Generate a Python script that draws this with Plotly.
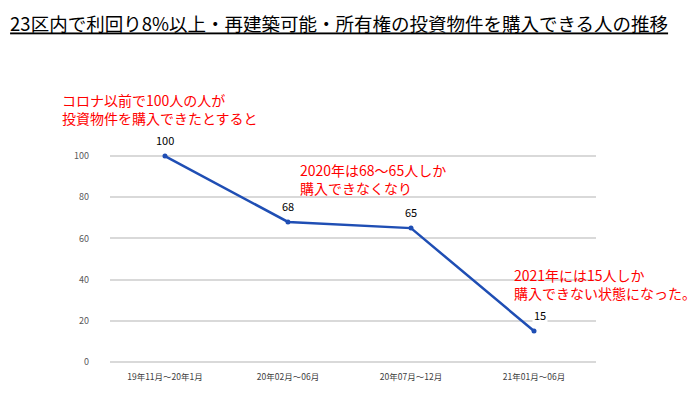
import plotly.graph_objects as go

categories = ["19年11月～20年1月", "20年02月～06月", "20年07月～12月", "21年01月～06月"]
values = [100, 68, 65, 15]
label_text = ["100", "68", "65", "15"]
y_ticks = [0, 20, 40, 60, 80, 100]

title_text = "23区内で利回り8%以上・再建築可能・所有権の投資物件を購入できる人の推移"
notes = [
    "コロナ以前で100人の人が<br>投資物件を購入できたとすると",
    "2020年は68～65人しか<br>購入できなくなり",
    "2021年には15人しか<br>購入できない状態になった。",
]
note_x = [-0.103, 0.387, 0.827]
note_y = [1.212, 0.883, 0.381]

CJK = "Noto Sans CJK JP"
xi = list(range(len(categories)))

fig = go.Figure()
fig.add_trace(go.Scatter(
    x=xi, y=values, mode="lines+markers",
    line=dict(color="#1f4eb4", width=2.5),
    marker=dict(size=5, color="#1f4eb4"),
    cliponaxis=False, hoverinfo="skip", showlegend=False,
))

for i, (v, t) in enumerate(zip(values, label_text)):
    fig.add_annotation(
        x=xi[i] + (0.05 if i == 3 else 0), y=v, text=t, showarrow=False,
        yshift=16, font=dict(family=CJK, size=11, color="#000000"),
        bgcolor="white" if i == 3 else None,
    )

for t, x, y in zip(notes, note_x, note_y):
    fig.add_annotation(
        x=x, y=y, xref="paper", yref="paper", text=t, showarrow=False,
        xanchor="left", yanchor="middle", align="left",
        font=dict(family=CJK, size=14, color="#ff0000"),
    )

fig.update_layout(
    width=700, height=396,
    margin=dict(l=102, r=112, t=146, b=40),
    paper_bgcolor="white", plot_bgcolor="white",
    title=dict(
        text="<u>" + title_text + "</u>",
        x=0.003, xanchor="left", xref="container",
        y=1 - 17 / 396, yanchor="middle", yref="container",
        font=dict(family=CJK, size=18.5, color="#000000"),
    ),
    xaxis=dict(
        range=[-0.447, 3.504], tickmode="array", tickvals=xi, ticktext=categories,
        showgrid=False, zeroline=False, showline=False,
        tickfont=dict(family=CJK, size=8.5, color="#404040"),
        ticklabelstandoff=6,
    ),
    yaxis=dict(
        range=[-1, 101], tickmode="array", tickvals=y_ticks,
        ticktext=[str(v) for v in y_ticks],
        showgrid=True, gridcolor="#d9d9d9", gridwidth=1.5,
        zeroline=False, showline=False,
        tickfont=dict(family=CJK, size=9, color="#595959"),
        ticklabelstandoff=20,
    ),
)

fig.write_html("out.html")
